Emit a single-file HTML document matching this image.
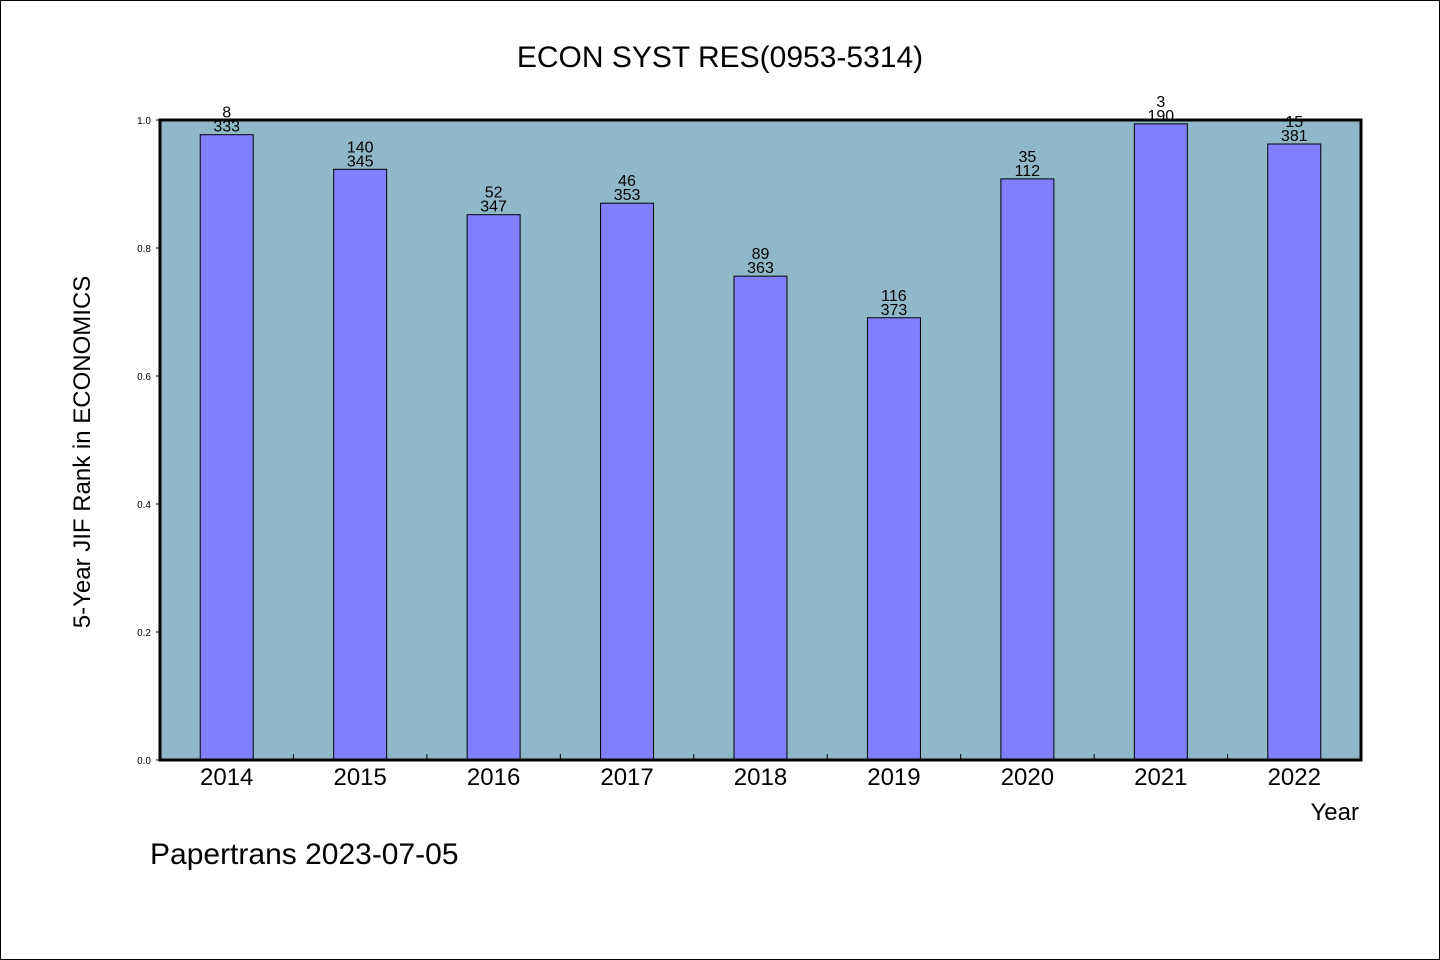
<!DOCTYPE html>
<html><head><meta charset="utf-8"><style>
html,body{margin:0;padding:0;background:#fff}
svg{display:block}
text{font-family:"WenQuanYi Zen Hei","Liberation Sans",sans-serif;fill:#000}
</style></head><body>
<svg id="chart" width="1440" height="960" xmlns="http://www.w3.org/2000/svg">
<rect x="0.5" y="0.5" width="1439" height="959" fill="#fff" stroke="#000" stroke-width="1"/>
<text x="720" y="67" font-size="30" text-anchor="middle">ECON SYST RES(0953-5314)</text>
<rect x="160" y="120" width="1201" height="640" fill="#8fb8c8"/>
<g id="bars"></g>
<g id="axes"></g>
<rect x="160" y="120" width="1201" height="640" fill="none" stroke="#000" stroke-width="3"/>
<text transform="translate(90,452) rotate(-90)" font-size="24" text-anchor="middle">5-Year JIF Rank in ECONOMICS</text>
<text x="1359" y="820" font-size="24" text-anchor="end">Year</text>
<text x="150" y="864" font-size="30">Papertrans 2023-07-05</text>
</svg>
<script>
const categories = ["2014","2015","2016","2017","2018","2019","2020","2021","2022"];
const values = [0.977,0.923,0.852,0.870,0.756,0.691,0.908,0.994,0.9625];
const ranks = ["8","140","52","46","89","116","35","3","15"];
const totals = ["333","345","347","353","363","373","112","190","381"];
const yTicks = [0,0.2,0.4,0.6,0.8,1.0];
const yTickLabels = ["0.0","0.2","0.4","0.6","0.8","1.0"];

const NS="http://www.w3.org/2000/svg";
const X0=160,X1=1361,Y0=760,Y1=120;
const slot=(X1-X0)/categories.length;
const xCenter=i=>X0+slot*(i+0.5);
const yScale=v=>Y0-(Y0-Y1)*v;
function mk(tag,attrs,parent){const e=document.createElementNS(NS,tag);for(const k in attrs)e.setAttribute(k,attrs[k]);parent.appendChild(e);return e;}
const bars=document.getElementById('bars');
const axes=document.getElementById('axes');
const bw=53;
categories.forEach((c,i)=>{
  const cx=xCenter(i),top=yScale(values[i]);
  const r=mk('rect',{x:cx-bw/2,y:top,width:bw,height:Y0-top,fill:'#8080ff',stroke:'#000','stroke-width':1},bars);
  
  
  const t1=mk('text',{x:cx,y:top-17,'font-size':16,'text-anchor':'middle'},bars);
  t1.textContent=ranks[i];
  
  
  const t2=mk('text',{x:cx,y:top-3,'font-size':16,'text-anchor':'middle'},bars);
  t2.textContent=totals[i];
  
  
  const xl=mk('text',{x:cx,y:785,'font-size':24,'text-anchor':'middle'},axes);
  xl.textContent=c;
  
  
  if(i>0){
    const tk=mk('line',{x1:X0+slot*i,x2:X0+slot*i,y1:Y0,y2:Y0-6,stroke:'#000','stroke-width':1},axes);
    
    
  }
});
yTicks.forEach((v,i)=>{
  const y=yScale(v);
  const tk=mk('line',{x1:X0-4,x2:X0,y1:y,y2:y,stroke:'#000','stroke-width':1},axes);
  
  
  const t=mk('text',{x:151,y:y+4,'font-size':10,'text-anchor':'end'},axes);
  t.textContent=yTickLabels[i];
  
  
});
</script>
</body></html>
